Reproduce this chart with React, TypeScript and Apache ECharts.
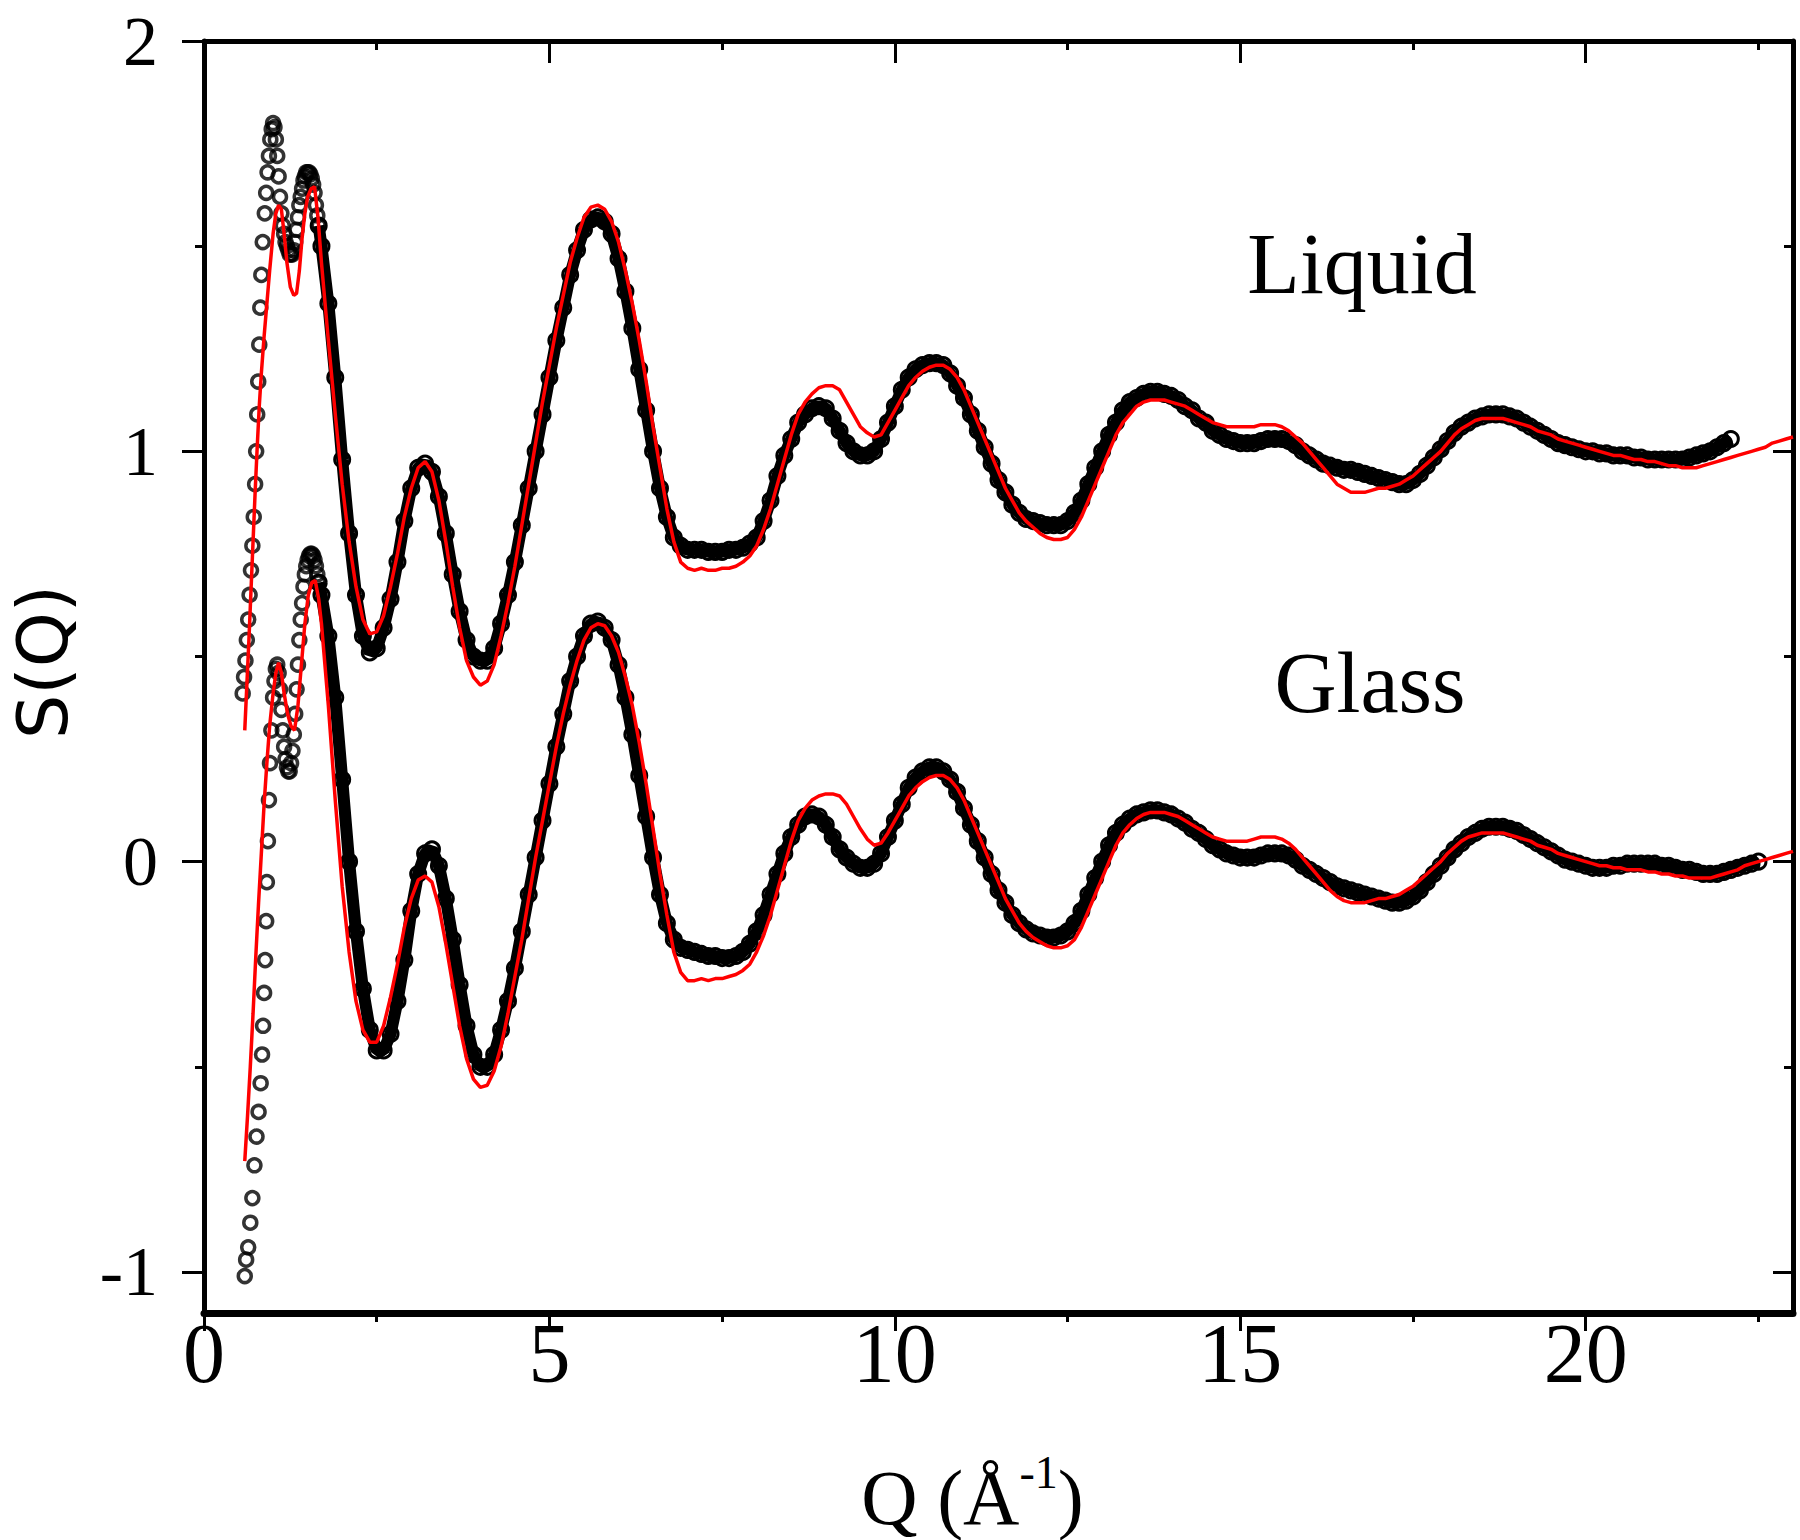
import React, { useEffect, useRef } from "react";
import * as echarts from "echarts";

// ---------- axis ticks ----------
const X_MAJOR = [0, 5, 10, 15, 20];
const X_MINOR = [2.5, 7.5, 12.5, 17.5, 22.5];
const Y_MAJOR = [-1, 0, 1, 2];
const Y_MINOR = [-0.5, 0.5, 1.5];

// ---------- Q grid for the regular part (Å^-1) ----------
const Q_HIGH = [
  1.7, 1.8, 1.9,
  2.0, 2.1, 2.2, 2.3, 2.4, 2.5, 2.6, 2.7, 2.8, 2.9,
  3.0, 3.1, 3.2, 3.3, 3.4, 3.5, 3.6, 3.7, 3.8, 3.9,
  4.0, 4.1, 4.2, 4.3, 4.4, 4.5, 4.6, 4.7, 4.8, 4.9,
  5.0, 5.1, 5.2, 5.3, 5.4, 5.5, 5.6, 5.7, 5.8, 5.9,
  6.0, 6.1, 6.2, 6.3, 6.4, 6.5, 6.6, 6.7, 6.8, 6.9,
  7.0, 7.1, 7.2, 7.3, 7.4, 7.5, 7.6, 7.7, 7.8, 7.9,
  8.0, 8.1, 8.2, 8.3, 8.4, 8.5, 8.6, 8.7, 8.8, 8.9,
  9.0, 9.1, 9.2, 9.3, 9.4, 9.5, 9.6, 9.7, 9.8, 9.9,
  10.0, 10.1, 10.2, 10.3, 10.4, 10.5, 10.6, 10.7, 10.8, 10.9,
  11.0, 11.1, 11.2, 11.3, 11.4, 11.5, 11.6, 11.7, 11.8, 11.9,
  12.0, 12.1, 12.2, 12.3, 12.4, 12.5, 12.6, 12.7, 12.8, 12.9,
  13.0, 13.1, 13.2, 13.3, 13.4, 13.5, 13.6, 13.7, 13.8, 13.9,
  14.0, 14.1, 14.2, 14.3, 14.4, 14.5, 14.6, 14.7, 14.8, 14.9,
  15.0, 15.1, 15.2, 15.3, 15.4, 15.5, 15.6, 15.7, 15.8, 15.9,
  16.0, 16.1, 16.2, 16.3, 16.4, 16.5, 16.6, 16.7, 16.8, 16.9,
  17.0, 17.1, 17.2, 17.3, 17.4, 17.5, 17.6, 17.7, 17.8, 17.9,
  18.0, 18.1, 18.2, 18.3, 18.4, 18.5, 18.6, 18.7, 18.8, 18.9,
  19.0, 19.1, 19.2, 19.3, 19.4, 19.5, 19.6, 19.7, 19.8, 19.9,
  20.0, 20.1, 20.2, 20.3, 20.4, 20.5, 20.6, 20.7, 20.8, 20.9,
  21.0, 21.1, 21.2, 21.3, 21.4, 21.5, 21.6, 21.7, 21.8, 21.9,
  22.0, 22.1, 22.2, 22.3, 22.4, 22.5, 22.6, 22.7, 22.8, 22.9,
  23.0,
];

// ---------- Liquid, experiment (open circles), low-Q part [Q, S] ----------
const LIQ_EXP_LOW = [
  [0.56, 0.41], [0.58, 0.45], [0.6, 0.49], [0.62, 0.54], [0.64, 0.59], [0.66, 0.65],
  [0.68, 0.71], [0.7, 0.77], [0.72, 0.84], [0.74, 0.92], [0.755, 1.0], [0.77, 1.09],
  [0.785, 1.17], [0.8, 1.26], [0.815, 1.35], [0.83, 1.43], [0.85, 1.51], [0.88, 1.58],
  [0.9, 1.63], [0.92, 1.68], [0.94, 1.72], [0.96, 1.76], [0.98, 1.785], [1.0, 1.8],
  [1.02, 1.79], [1.04, 1.76], [1.06, 1.72], [1.08, 1.67], [1.1, 1.62], [1.12, 1.58],
  [1.14, 1.55], [1.16, 1.53], [1.18, 1.51], [1.2, 1.5], [1.22, 1.49], [1.24, 1.48],
  [1.26, 1.48], [1.28, 1.48], [1.3, 1.49], [1.32, 1.51], [1.34, 1.54], [1.36, 1.57],
  [1.38, 1.6], [1.4, 1.62], [1.42, 1.64], [1.44, 1.66], [1.46, 1.67], [1.48, 1.68],
  [1.5, 1.68], [1.52, 1.68], [1.54, 1.675], [1.56, 1.665], [1.58, 1.65], [1.6, 1.63],
  [1.62, 1.6], [1.64, 1.575], [1.66, 1.55],
];
// Liquid, experiment, Q = 1.7 ... 22.1
const LIQ_EXP_HIGH = [
  1.5, 1.36, 1.18,
  0.98, 0.8, 0.65, 0.55, 0.51, 0.52, 0.57, 0.64, 0.73, 0.83,
  0.91, 0.96, 0.97, 0.95, 0.89, 0.8, 0.7, 0.61, 0.54, 0.5,
  0.49, 0.49, 0.52, 0.58, 0.65, 0.73, 0.82, 0.91, 1.0, 1.09,
  1.18, 1.27, 1.35, 1.43, 1.49, 1.54, 1.565, 1.57, 1.56, 1.53,
  1.47, 1.39, 1.3, 1.2, 1.1, 1.0, 0.91, 0.84, 0.79, 0.77,
  0.76, 0.76, 0.76, 0.755, 0.755, 0.755, 0.76, 0.76, 0.765, 0.775,
  0.79, 0.83, 0.88, 0.94, 0.99, 1.03, 1.07, 1.09, 1.105, 1.11,
  1.105, 1.08, 1.05, 1.02, 1.0, 0.99, 0.99, 1.0, 1.03, 1.07,
  1.11, 1.15, 1.18, 1.2, 1.21, 1.215, 1.215, 1.21, 1.19, 1.16,
  1.13, 1.09, 1.05, 1.01, 0.97, 0.93, 0.9, 0.87, 0.85, 0.835,
  0.83, 0.825, 0.82, 0.82, 0.82, 0.83, 0.85, 0.88, 0.92, 0.96,
  1.0, 1.04, 1.07, 1.1, 1.12, 1.13, 1.14, 1.145, 1.145, 1.14,
  1.135, 1.125, 1.11, 1.1, 1.08, 1.07, 1.05, 1.04, 1.03, 1.025,
  1.02, 1.02, 1.02, 1.025, 1.03, 1.03, 1.03, 1.025, 1.015, 1.0,
  0.99, 0.98, 0.97, 0.965, 0.96, 0.955, 0.955, 0.95, 0.945, 0.94,
  0.935, 0.93, 0.925, 0.92, 0.92, 0.93, 0.945, 0.965, 0.985, 1.005,
  1.025, 1.045, 1.06, 1.07, 1.08, 1.085, 1.09, 1.09, 1.09, 1.085,
  1.08, 1.07, 1.06, 1.05, 1.04, 1.03, 1.02, 1.015, 1.01, 1.005,
  1.0, 1.0, 0.995, 0.995, 0.99, 0.99, 0.99, 0.985, 0.985, 0.98,
  0.98, 0.98, 0.98, 0.98, 0.98, 0.985, 0.99, 0.995, 1.0, 1.01,
  1.02, 1.03,
];

// ---------- Liquid, model (red line) ----------
const LIQ_FIT_LOW = [
  [0.59, 0.32], [0.62, 0.43], [0.65, 0.54], [0.68, 0.66], [0.71, 0.78], [0.74, 0.9],
  [0.77, 1.01], [0.8, 1.11], [0.83, 1.19], [0.87, 1.28], [0.91, 1.36], [0.95, 1.44],
  [1.0, 1.53], [1.04, 1.58], [1.08, 1.6], [1.12, 1.59], [1.16, 1.53], [1.2, 1.46],
  [1.25, 1.4], [1.3, 1.38], [1.34, 1.385], [1.38, 1.44], [1.42, 1.52], [1.46, 1.58],
  [1.5, 1.62], [1.55, 1.64], [1.6, 1.645], [1.65, 1.57],
];
// Liquid, model, Q = 1.7 ... 23.0
const LIQ_FIT_HIGH = [
  1.46, 1.27, 1.09,
  0.92, 0.78, 0.67, 0.59, 0.555, 0.56, 0.6, 0.67, 0.75, 0.84,
  0.91, 0.96, 0.975, 0.95, 0.88, 0.78, 0.67, 0.57, 0.49, 0.45,
  0.43, 0.44, 0.48, 0.55, 0.63, 0.72, 0.82, 0.92, 1.02, 1.12,
  1.21, 1.3, 1.38, 1.46, 1.52, 1.57, 1.595, 1.6, 1.59, 1.56,
  1.51, 1.44, 1.36, 1.27, 1.17, 1.06, 0.96, 0.86, 0.78, 0.73,
  0.715, 0.71, 0.715, 0.71, 0.71, 0.715, 0.715, 0.72, 0.73, 0.745,
  0.77, 0.81, 0.86, 0.92, 0.98, 1.04, 1.09, 1.12, 1.14, 1.155,
  1.16, 1.16, 1.15, 1.12, 1.09, 1.06, 1.045, 1.035, 1.04, 1.07,
  1.1, 1.13, 1.16, 1.18, 1.195, 1.205, 1.21, 1.21, 1.2, 1.18,
  1.15, 1.11, 1.07, 1.03, 0.99, 0.95, 0.91, 0.88, 0.85, 0.83,
  0.815, 0.8, 0.79, 0.785, 0.785, 0.79, 0.81, 0.84, 0.88, 0.92,
  0.96, 1.0, 1.04, 1.07, 1.09, 1.11, 1.12, 1.125, 1.125, 1.125,
  1.12, 1.115, 1.11, 1.1, 1.09, 1.08, 1.07, 1.065, 1.06, 1.06,
  1.06, 1.06, 1.06, 1.065, 1.065, 1.065, 1.06, 1.05, 1.035, 1.02,
  1.0, 0.98, 0.96, 0.94, 0.92, 0.91, 0.9, 0.9, 0.9, 0.905,
  0.91, 0.91, 0.915, 0.92, 0.93, 0.94, 0.955, 0.97, 0.985, 1.0,
  1.02, 1.04, 1.055, 1.065, 1.075, 1.08, 1.08, 1.08, 1.08, 1.075,
  1.07, 1.065, 1.06, 1.05, 1.045, 1.04, 1.03, 1.025, 1.02, 1.015,
  1.01, 1.005, 1.0, 0.995, 0.99, 0.99, 0.985, 0.98, 0.98, 0.975,
  0.975, 0.97, 0.965, 0.965, 0.96, 0.96, 0.96, 0.965, 0.97, 0.975,
  0.98, 0.985, 0.99, 0.995, 1.0, 1.005, 1.01, 1.02, 1.025, 1.03,
  1.035,
];

// ---------- Glass, experiment (open circles) ----------
const GLS_EXP_LOW = [
  [0.59, -1.01], [0.61, -0.97], [0.64, -0.94], [0.67, -0.88], [0.7, -0.82], [0.73, -0.74],
  [0.76, -0.67], [0.79, -0.61], [0.82, -0.54], [0.84, -0.47], [0.855, -0.4], [0.87, -0.32],
  [0.885, -0.24], [0.9, -0.145], [0.91, -0.05], [0.925, 0.05], [0.94, 0.15], [0.955, 0.24],
  [0.975, 0.32], [1.0, 0.4], [1.02, 0.44], [1.04, 0.47], [1.06, 0.48], [1.08, 0.46],
  [1.1, 0.42], [1.12, 0.37], [1.14, 0.32], [1.16, 0.28], [1.18, 0.25], [1.2, 0.23],
  [1.22, 0.22], [1.24, 0.22], [1.26, 0.24], [1.28, 0.27], [1.3, 0.31], [1.32, 0.36],
  [1.34, 0.42], [1.36, 0.48], [1.38, 0.54], [1.4, 0.59], [1.42, 0.63], [1.44, 0.67],
  [1.46, 0.7], [1.48, 0.72], [1.5, 0.735], [1.52, 0.745], [1.54, 0.75], [1.56, 0.75],
  [1.58, 0.745], [1.6, 0.735], [1.62, 0.72], [1.64, 0.7], [1.66, 0.68],
];
// Glass, experiment, Q = 1.7 ... 22.5
const GLS_EXP_HIGH = [
  0.65, 0.55, 0.4,
  0.2, 0.0, -0.17, -0.31, -0.41, -0.46, -0.46, -0.42, -0.34, -0.24,
  -0.12, -0.03, 0.02, 0.03, -0.01, -0.09, -0.19, -0.3, -0.4, -0.47,
  -0.5, -0.5, -0.47, -0.41, -0.34, -0.26, -0.17, -0.08, 0.01, 0.1,
  0.19, 0.28, 0.36, 0.44, 0.5, 0.55, 0.58, 0.585, 0.57, 0.54,
  0.48, 0.4, 0.31, 0.21, 0.11, 0.01, -0.08, -0.15, -0.19, -0.21,
  -0.215, -0.22, -0.225, -0.23, -0.23, -0.235, -0.235, -0.23, -0.22, -0.2,
  -0.17, -0.13, -0.08, -0.03, 0.02, 0.06, 0.09, 0.11, 0.115, 0.11,
  0.09, 0.06, 0.03, 0.01, -0.005, -0.015, -0.015, -0.005, 0.02, 0.06,
  0.1, 0.14, 0.18, 0.205, 0.22, 0.23, 0.23, 0.22, 0.2, 0.17,
  0.13, 0.09, 0.05, 0.01, -0.03, -0.07, -0.1, -0.13, -0.15, -0.165,
  -0.175, -0.18, -0.185, -0.185, -0.18, -0.17, -0.15, -0.12, -0.08, -0.04,
  0.0, 0.04, 0.07, 0.09, 0.105, 0.115, 0.12, 0.125, 0.125, 0.12,
  0.115, 0.105, 0.095, 0.08, 0.07, 0.055, 0.04, 0.03, 0.02, 0.015,
  0.01, 0.01, 0.01, 0.015, 0.02, 0.02, 0.02, 0.015, 0.005, -0.01,
  -0.02, -0.03, -0.04, -0.05, -0.06, -0.065, -0.07, -0.075, -0.08, -0.085,
  -0.09, -0.095, -0.1, -0.1, -0.095, -0.085, -0.07, -0.05, -0.03, -0.01,
  0.01, 0.03, 0.045, 0.06, 0.07, 0.08, 0.085, 0.085, 0.085, 0.08,
  0.075, 0.065, 0.055, 0.045, 0.035, 0.025, 0.015, 0.005, 0.0, -0.005,
  -0.01, -0.015, -0.015, -0.015, -0.01, -0.01, -0.005, -0.005, -0.005, -0.005,
  -0.005, -0.01, -0.01, -0.015, -0.02, -0.02, -0.025, -0.03, -0.03, -0.03,
  -0.025, -0.02, -0.015, -0.01, -0.005, 0.0,
];

// ---------- Glass, model (red line) ----------
const GLS_FIT_LOW = [
  [0.59, -0.73], [0.63, -0.62], [0.67, -0.5], [0.71, -0.37], [0.75, -0.23], [0.79, -0.1],
  [0.83, 0.02], [0.87, 0.14], [0.91, 0.24], [0.95, 0.33], [1.0, 0.41], [1.04, 0.46],
  [1.08, 0.485], [1.12, 0.46], [1.16, 0.41], [1.21, 0.36], [1.26, 0.33], [1.31, 0.32],
  [1.36, 0.38], [1.41, 0.48], [1.46, 0.58], [1.51, 0.65], [1.56, 0.68], [1.61, 0.685],
  [1.66, 0.64],
];
// Glass, model, Q = 1.7 ... 23.0
const GLS_FIT_HIGH = [
  0.58, 0.38, 0.15,
  -0.06, -0.22, -0.34, -0.41, -0.44, -0.44, -0.4, -0.33, -0.25, -0.16,
  -0.09, -0.045, -0.035, -0.05, -0.11, -0.2, -0.3, -0.4, -0.48, -0.53,
  -0.55, -0.545, -0.51, -0.45, -0.37, -0.28, -0.19, -0.09, 0.01, 0.1,
  0.19, 0.28, 0.36, 0.43, 0.49, 0.54, 0.57, 0.58, 0.575, 0.55,
  0.51, 0.45, 0.38, 0.29, 0.19, 0.08, -0.03, -0.13, -0.22, -0.27,
  -0.29, -0.29, -0.285, -0.29, -0.285, -0.285, -0.28, -0.275, -0.265, -0.25,
  -0.22, -0.18, -0.13, -0.07, -0.01, 0.05, 0.1, 0.13, 0.15, 0.16,
  0.165, 0.165, 0.16, 0.14, 0.11, 0.08, 0.055, 0.04, 0.045, 0.07,
  0.1, 0.13, 0.16, 0.18, 0.195, 0.205, 0.21, 0.21, 0.2, 0.18,
  0.15, 0.11, 0.07, 0.03, -0.01, -0.05, -0.09, -0.12, -0.15, -0.17,
  -0.185, -0.195, -0.205, -0.21, -0.21, -0.205, -0.19, -0.16, -0.12, -0.08,
  -0.04, 0.0, 0.04, 0.07, 0.09, 0.105, 0.115, 0.12, 0.12, 0.12,
  0.115, 0.11, 0.1, 0.09, 0.08, 0.07, 0.06, 0.055, 0.05, 0.05,
  0.05, 0.05, 0.055, 0.06, 0.06, 0.06, 0.055, 0.045, 0.03, 0.01,
  -0.01, -0.03, -0.05, -0.07, -0.085, -0.095, -0.1, -0.1, -0.1, -0.095,
  -0.09, -0.09, -0.085, -0.08, -0.07, -0.06, -0.045, -0.03, -0.015, 0.0,
  0.02, 0.035, 0.05, 0.06, 0.065, 0.07, 0.07, 0.07, 0.07, 0.065,
  0.06, 0.055, 0.05, 0.04, 0.035, 0.03, 0.02, 0.015, 0.01, 0.005,
  0.0, -0.005, -0.01, -0.01, -0.015, -0.015, -0.02, -0.02, -0.02, -0.025,
  -0.025, -0.03, -0.03, -0.035, -0.035, -0.04, -0.04, -0.04, -0.04, -0.035,
  -0.03, -0.025, -0.02, -0.01, -0.005, 0.0, 0.005, 0.01, 0.015, 0.02,
  0.025,
];

const CURVE_LABELS = ["Liquid", "Glass"];

const SERIF = "'Liberation Serif', 'DejaVu Serif', serif";
const SANS = "'DejaVu Sans', 'Noto Sans', sans-serif";

function onGrid(values: number[]): number[][] {
  return values.map((s, i) => [Q_HIGH[i], s]);
}

export default function App() {
  const ref = useRef<HTMLDivElement>(null);

  useEffect(() => {
    document.body.style.margin = "0";
    const chart = echarts.init(ref.current as HTMLDivElement, null, { renderer: "svg" });

    const X_MIN = 0, X_MAX = 23, Y_MIN = -1.1, Y_MAX = 2;
    const black = "#000";
    const red = "#ff0000";

    const baseX = (pos: string, extra: any) => ({
      type: "value",
      position: pos,
      min: X_MIN,
      max: X_MAX,
      splitLine: { show: false },
      axisLabel: { show: false },
      axisLine: { show: false, onZero: false },
      ...extra,
    });
    const baseY = (pos: string, extra: any) => ({
      type: "value",
      position: pos,
      min: Y_MIN,
      max: Y_MAX,
      splitLine: { show: false },
      axisLabel: { show: false },
      axisLine: { show: false, onZero: false },
      ...extra,
    });

    const ringLow = { color: "rgba(0,0,0,0)", borderColor: black, borderWidth: 3.5 };
    const ringHigh = { color: "rgba(0,0,0,0)", borderColor: black, borderWidth: 3 };

    const option: any = {
      animation: false,
      backgroundColor: "#fff",
      grid: { left: 204, top: 41, width: 1589, height: 1272, containLabel: false, outerBoundsMode: "none" },
      xAxis: [
        baseX("bottom", {
          axisLine: { show: true, onZero: false, lineStyle: { color: black, width: 7 } },
          axisTick: { show: true, inside: false, length: 18, customValues: X_MAJOR, lineStyle: { color: black, width: 3 } },
          axisLabel: { show: true, customValues: X_MAJOR, margin: 8, fontSize: 84, lineHeight: 64, fontFamily: SERIF, color: black },
          name: "Q (Å{sup|-1})",
          nameLocation: "middle",
          nameGap: 136,
          nameTextStyle: {
            fontSize: 78,
            lineHeight: 96,
            fontFamily: SERIF,
            color: black,
            padding: [0, 52, 0, 0],
            rich: { sup: { fontSize: 46, lineHeight: 46, fontFamily: SERIF, color: black, verticalAlign: "top" } },
          },
        }),
        baseX("bottom", {
          axisTick: { show: true, inside: false, length: 9, customValues: X_MINOR, lineStyle: { color: black, width: 3 } },
        }),
        baseX("top", {
          axisLine: { show: true, onZero: false, lineStyle: { color: black, width: 5 } },
          axisTick: { show: true, inside: true, length: 22, customValues: X_MAJOR, lineStyle: { color: black, width: 3 } },
        }),
        baseX("top", {
          axisTick: { show: true, inside: true, length: 9, customValues: X_MINOR, lineStyle: { color: black, width: 3 } },
        }),
      ],
      yAxis: [
        baseY("left", {
          axisLine: { show: true, onZero: false, lineStyle: { color: black, width: 5 } },
          axisTick: { show: true, inside: false, length: 22, customValues: Y_MAJOR, lineStyle: { color: black, width: 3 } },
          axisLabel: { show: true, customValues: Y_MAJOR, margin: 46, fontSize: 70, lineHeight: 60, fontFamily: SERIF, color: black },
          name: "S(Q)",
          nameLocation: "middle",
          nameGap: 126,
          nameTextStyle: { fontSize: 70, lineHeight: 70, fontFamily: SANS, color: black, padding: [0, 0, 0, 30] },
        }),
        baseY("left", {
          axisTick: { show: true, inside: false, length: 9, customValues: Y_MINOR, lineStyle: { color: black, width: 3 } },
        }),
        baseY("right", {
          axisLine: { show: true, onZero: false, lineStyle: { color: black, width: 5 } },
          axisTick: { show: true, inside: true, length: 20, customValues: Y_MAJOR, lineStyle: { color: black, width: 3 } },
        }),
        baseY("right", {
          axisTick: { show: true, inside: true, length: 9, customValues: Y_MINOR, lineStyle: { color: black, width: 3 } },
        }),
      ],
      graphic: [
        {
          type: "text",
          x: 1362,
          y: 264,
          style: {
            text: CURVE_LABELS[0], fontSize: 86, fontFamily: SERIF, fill: black,
            align: "center", verticalAlign: "middle", textAlign: "center", textVerticalAlign: "middle",
          },
        },
        {
          type: "text",
          x: 1370,
          y: 683,
          style: {
            text: CURVE_LABELS[1], fontSize: 86, fontFamily: SERIF, fill: black,
            align: "center", verticalAlign: "middle", textAlign: "center", textVerticalAlign: "middle",
          },
        },
      ],
      series: [
        // experimental data: open circles
        {
          name: "Liquid exp low", type: "scatter", data: LIQ_EXP_LOW, symbol: "circle", symbolSize: 13,
          itemStyle: ringLow, silent: true, z: 2,
        },
        {
          name: "Liquid exp", type: "line", data: [LIQ_EXP_LOW[LIQ_EXP_LOW.length - 1]].concat(onGrid(LIQ_EXP_HIGH)),
          symbol: "circle", symbolSize: 15, showSymbol: true, showAllSymbol: true, itemStyle: ringHigh,
          lineStyle: { color: black, width: 12 }, silent: true, z: 2,
        },
        {
          name: "Glass exp low", type: "scatter", data: GLS_EXP_LOW, symbol: "circle", symbolSize: 13,
          itemStyle: ringLow, silent: true, z: 2,
        },
        {
          name: "Glass exp", type: "line", data: [GLS_EXP_LOW[GLS_EXP_LOW.length - 1]].concat(onGrid(GLS_EXP_HIGH)),
          symbol: "circle", symbolSize: 15, showSymbol: true, showAllSymbol: true, itemStyle: ringHigh,
          lineStyle: { color: black, width: 12 }, silent: true, z: 2,
        },
        // model: red lines, drawn above the data
        {
          name: "Liquid fit", type: "line", data: LIQ_FIT_LOW.concat(onGrid(LIQ_FIT_HIGH)),
          showSymbol: false, lineStyle: { color: red, width: 3.5 }, silent: true, z: 6,
        },
        {
          name: "Glass fit", type: "line", data: GLS_FIT_LOW.concat(onGrid(GLS_FIT_HIGH)),
          showSymbol: false, lineStyle: { color: red, width: 3.5 }, silent: true, z: 6,
        },
      ],
    };

    chart.setOption(option);
    return () => chart.dispose();
  }, []);

  return (
    <div
      ref={ref}
      style={{ position: "absolute", left: 0, top: 0, width: 1800, height: 1540, background: "#fff" }}
    />
  );
}
